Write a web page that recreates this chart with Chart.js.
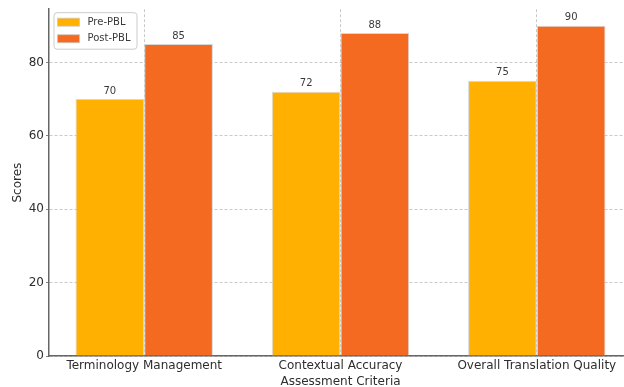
<!DOCTYPE html>
<html><head><meta charset="utf-8">
<script src="https://cdn.jsdelivr.net/npm/chart.js@4"></script>
<style>html,body{margin:0;padding:0;overflow:hidden;background:#fff}canvas{display:block}</style>
</head><body>
<canvas id="c" width="632" height="387"></canvas>
<script>
const categories = ['Terminology Management', 'Contextual Accuracy', 'Overall Translation Quality'];
const seriesLabels = ['Pre-PBL', 'Post-PBL'];
const preScores = [70, 72, 75];
const postScores = [85, 88, 90];
const yTicks = [0, 20, 40, 60, 80];
const xTitle = 'Assessment Criteria';
const yTitle = 'Scores';

const FONT = 'DejaVu Sans';
const colors = ['#FFB000', '#F46A21'];

const valueLabels = {
  id: 'valueLabels',
  afterDatasetsDraw(chart) {
    const ctx = chart.ctx;
    ctx.save();
    ctx.font = '10px "' + FONT + '"';
    ctx.fillStyle = '#3a3a3a';
    ctx.textAlign = 'center';
    ctx.textBaseline = 'alphabetic';
    chart.data.datasets.forEach((ds, di) => {
      chart.getDatasetMeta(di).data.forEach((el, i) => {
        ctx.fillText(String(ds.data[i].y), el.x, el.y - 5.5);
      });
    });
    ctx.restore();
  }
};

const innerLegend = {
  id: 'innerLegend',
  afterDraw(chart) {
    const ctx = chart.ctx;
    const a = chart.chartArea;
    const x0 = a.left + 5, y0 = a.top + 3.5, w = 83, h = 36.5, r = 3;
    ctx.save();
    ctx.beginPath();
    ctx.moveTo(x0 + r, y0);
    ctx.arcTo(x0 + w, y0, x0 + w, y0 + h, r);
    ctx.arcTo(x0 + w, y0 + h, x0, y0 + h, r);
    ctx.arcTo(x0, y0 + h, x0, y0, r);
    ctx.arcTo(x0, y0, x0 + w, y0, r);
    ctx.closePath();
    ctx.fillStyle = 'rgba(255,255,255,0.85)';
    ctx.fill();
    ctx.strokeStyle = '#cccccc';
    ctx.lineWidth = 1;
    ctx.stroke();
    ctx.font = '10px "' + FONT + '"';
    ctx.textBaseline = 'middle';
    ctx.textAlign = 'left';
    chart.data.datasets.forEach((ds, i) => {
      const cy = y0 + 9.5 + i * 16.5;
      ctx.fillStyle = ds.backgroundColor;
      ctx.fillRect(x0 + 3.5, cy - 4, 22, 8);
      ctx.strokeStyle = 'rgba(200,200,200,0.7)';
      ctx.strokeRect(x0 + 3.5, cy - 4, 22, 8);
      ctx.fillStyle = '#3a3a3a';
      ctx.fillText(ds.label, x0 + 33.5, cy);
    });
    ctx.restore();
  }
};

new Chart(document.getElementById('c'), {
  type: 'bar',
  data: {
    datasets: [
      { label: seriesLabels[0], data: preScores.map((v, i) => ({ x: i, y: v })), backgroundColor: colors[0], borderColor: 'rgba(205,205,205,0.8)', borderWidth: 1 },
      { label: seriesLabels[1], data: postScores.map((v, i) => ({ x: i, y: v })), backgroundColor: colors[1], borderColor: 'rgba(205,205,205,0.8)', borderWidth: 1 }
    ]
  },
  options: {
    responsive: false,
    animation: false,
    devicePixelRatio: 1,
    categoryPercentage: 0.7,
    barPercentage: 1.0,
    layout: { padding: { top: 9, left: 0, right: 0, bottom: 0 } },
    plugins: { legend: { display: false }, tooltip: { enabled: false } },
    scales: {
      x: {
        type: 'linear',
        offset: false,
        min: -0.485,
        max: 2.485,
        afterBuildTicks(scale) { scale.ticks = categories.map((c, i) => ({ value: i })); },
        afterFit(scale) { scale.height = 31; },
        ticks: {
          autoSkip: false, maxRotation: 0, minRotation: 0,
          padding: 3,
          color: '#2e2e2e',
          font: { family: FONT, size: 12 },
          callback: (v) => categories[v]
        },
        grid: { offset: false, drawTicks: false, color: '#bdbdbd', lineWidth: 0.8 },
        border: { color: '#666', width: 1.5, dash: [3, 2] },
        title: { display: true, text: xTitle, color: '#2e2e2e', font: { family: FONT, size: 12, lineHeight: 0.8 }, padding: { top: 0, bottom: 0 } }
      },
      y: {
        min: 0,
        max: 94.5,
        afterBuildTicks(scale) { scale.ticks = yTicks.map(v => ({ value: v })); },
        afterFit(scale) { scale.width = 49; },
        ticks: { padding: 2, color: '#2e2e2e', font: { family: FONT, size: 12 } },
        grid: { color: '#bdbdbd', lineWidth: 0.8, tickLength: 3, tickColor: '#666', tickBorderDash: [] },
        border: { color: '#666', width: 1.5, dash: [3, 2] },
        title: { display: true, text: yTitle, color: '#2e2e2e', font: { family: FONT, size: 12, lineHeight: 1 }, padding: { top: 12, bottom: 0 } }
      }
    }
  },
  plugins: [valueLabels, innerLegend]
});
</script>
</body></html>
